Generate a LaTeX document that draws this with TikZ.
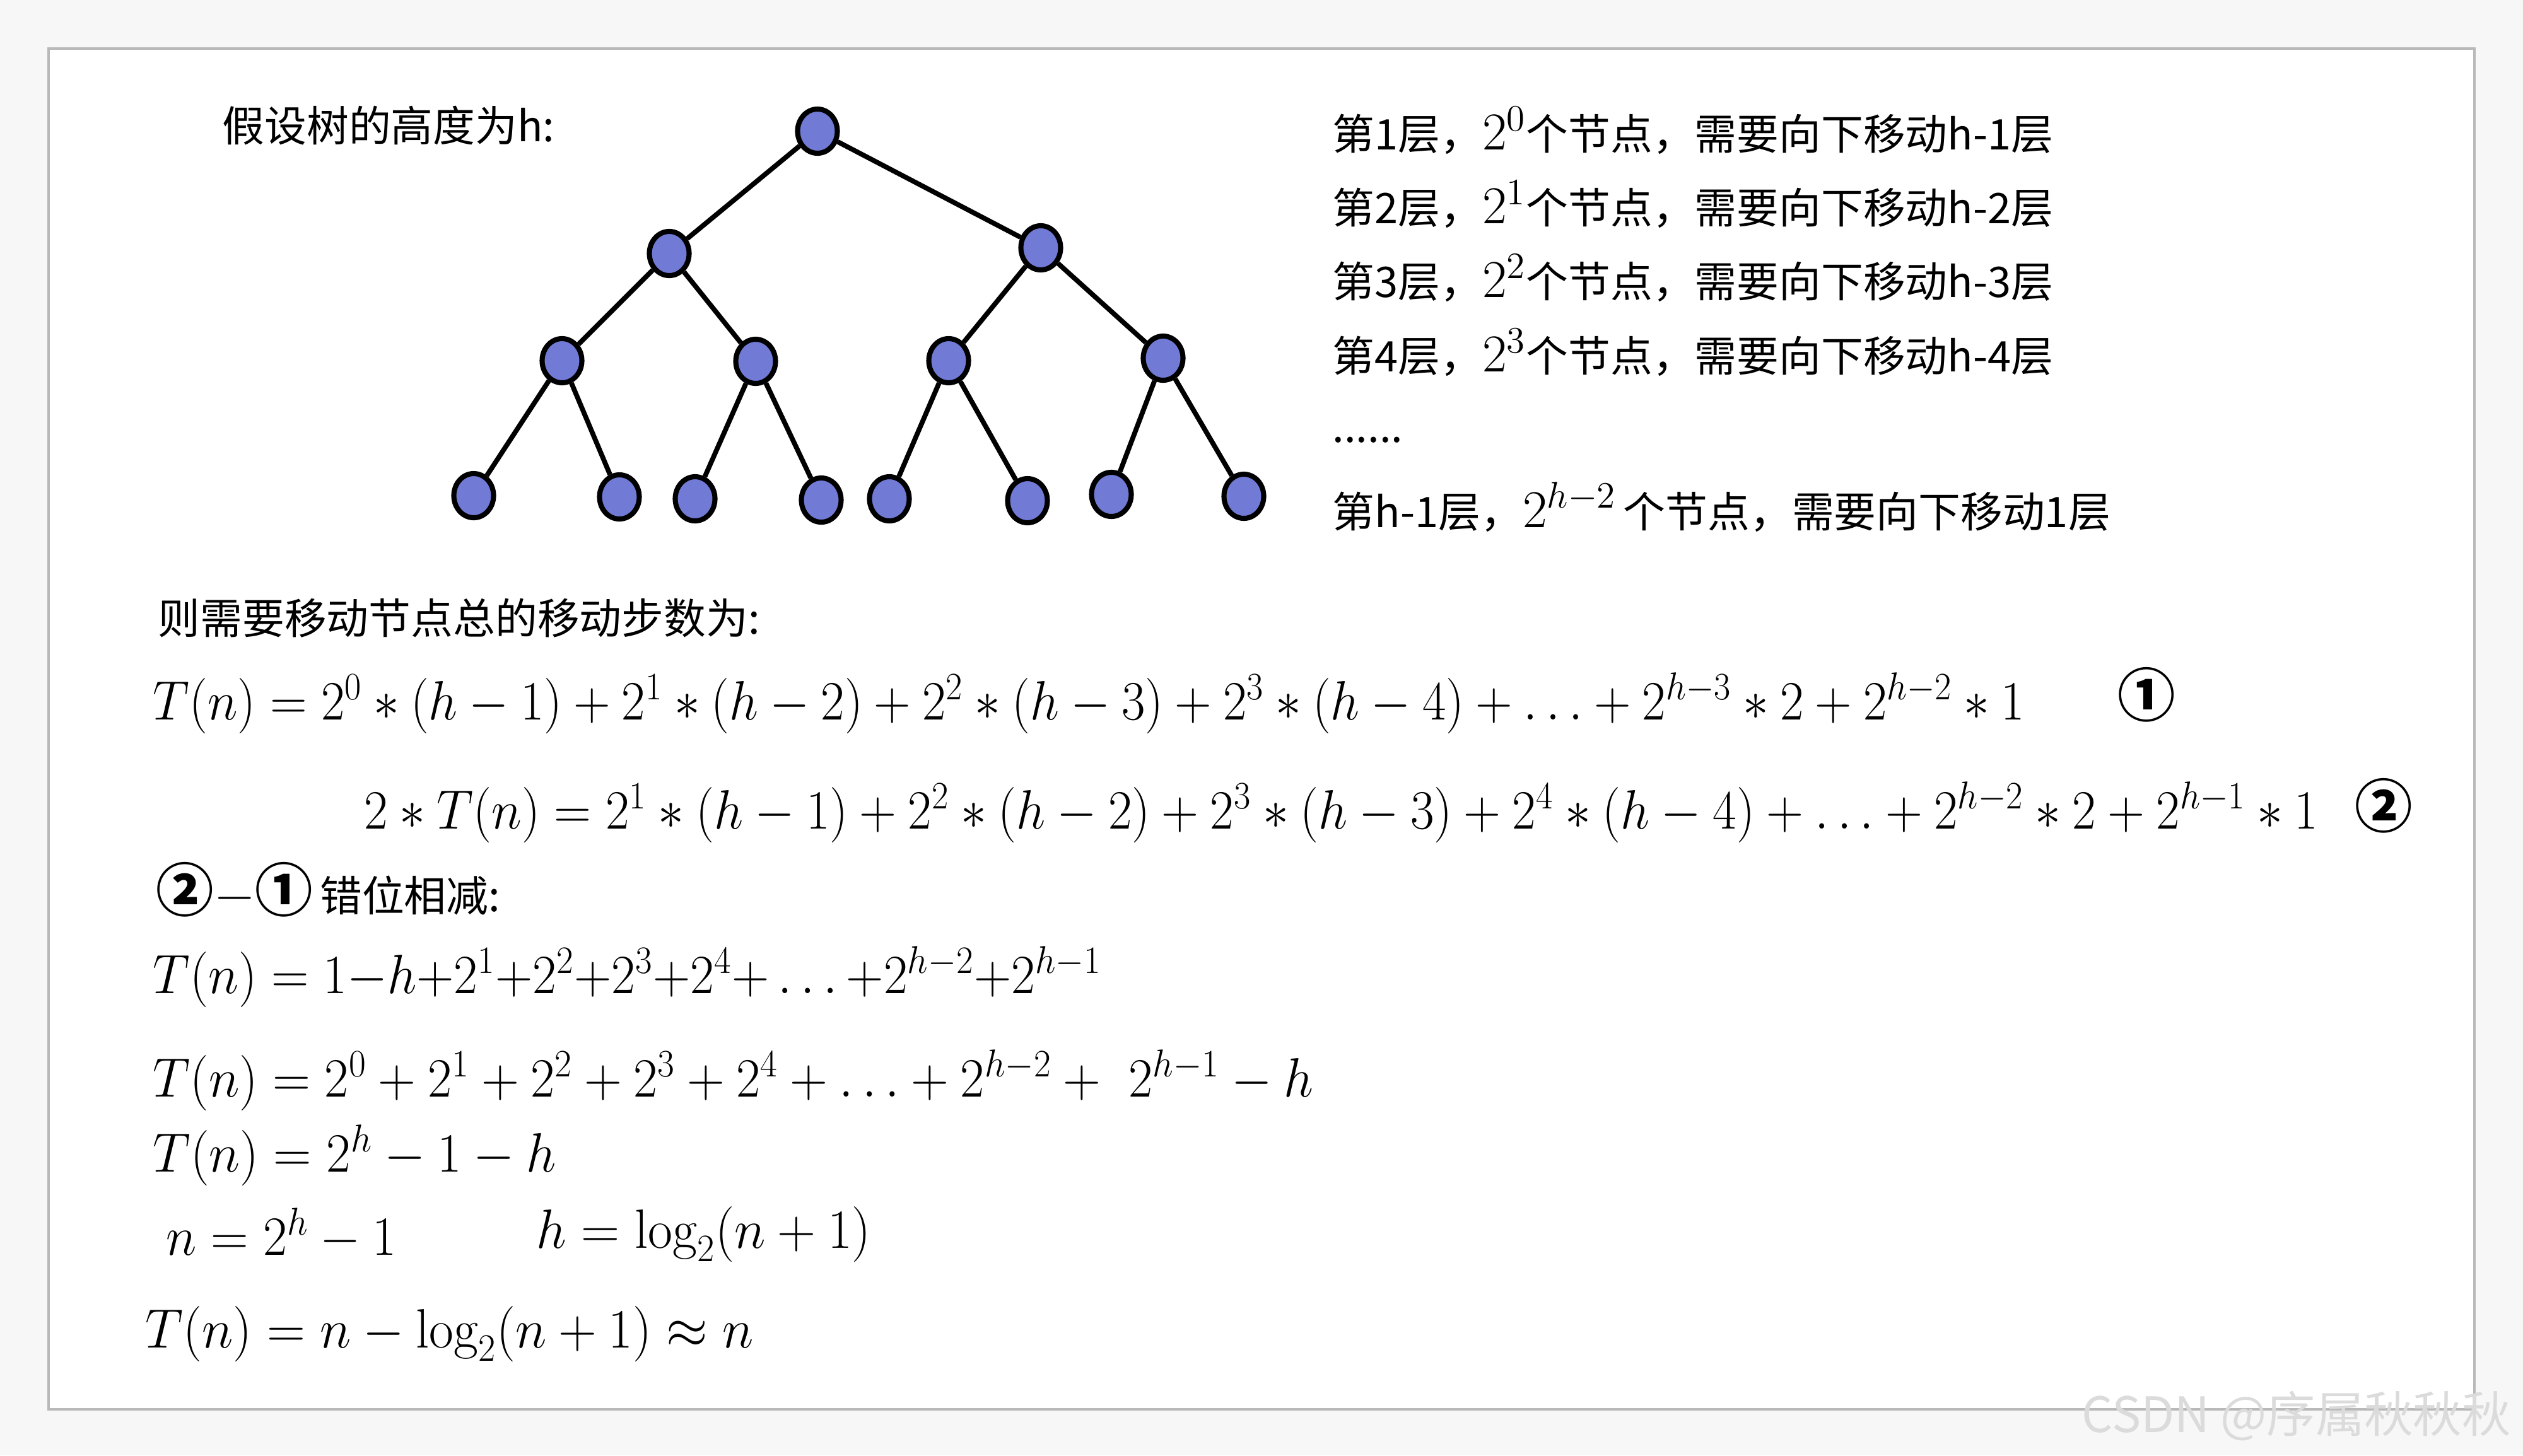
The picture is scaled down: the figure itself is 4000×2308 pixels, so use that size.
\RequirePackage{fix-cm}
\documentclass[tikz,border=0pt]{standalone}
\usepackage{fontspec}
\usetikzlibrary{shapes.geometric}
\newfontfamily\cjk{Noto Sans CJK SC}
\definecolor{nodeblue}{RGB}{113,123,214}
\definecolor{outerbg}{RGB}{247,247,247}
\newcommand{\mathbig}[1]{{\fontsize{24pt}{24pt}\selectfont$#1$}}
\newcommand{\sqz}[2]{\scalebox{#1}[1]{$#2$}}
\newcommand{\circd}[1]{{\fontsize{26pt}{28pt}\selectfont\bfseries #1}}
\begin{document}
\begin{tikzpicture}[x=0.01cm,y=-0.01cm,
  tnode/.style={ellipse, draw=black, line width=2.3pt, fill=nodeblue,
    minimum width=0.63cm, minimum height=0.70cm, inner sep=0pt},
  tedge/.style={line width=2.2pt, black},
  cjktext/.style={font=\cjk\fontsize{19pt}{23pt}\selectfont, anchor=west, inner sep=0pt},
  eqtext/.style={font=\fontsize{25pt}{30pt}\selectfont, anchor=west, inner sep=0pt},
  circnum/.style={font=\cjk\fontsize{26pt}{28pt}\selectfont\bfseries, inner sep=0pt},
  wmark/.style={font=\cjk\fontsize{22pt}{25pt}\selectfont, anchor=west, inner sep=0pt, text=gray!28}]
\useasboundingbox (0,0) rectangle (4000,2308);
\fill[outerbg] (0,0) rectangle (4000,2308);
\draw[gray!55, line width=1pt, fill=white] (77,77) rectangle (3923,2235);

% tree
\node[tnode] (r) at (1296,208) {};
\node[tnode] (a) at (1061,402) {};
\node[tnode] (b) at (1650,393) {};
\node[tnode] (a1) at (891,572) {};
\node[tnode] (a2) at (1198,573) {};
\node[tnode] (b1) at (1504,572) {};
\node[tnode] (b2) at (1844,568) {};
\node[tnode] (c1) at (751,786) {};
\node[tnode] (c2) at (982,788) {};
\node[tnode] (c3) at (1102,791) {};
\node[tnode] (c4) at (1302,793) {};
\node[tnode] (c5) at (1410,791) {};
\node[tnode] (c6) at (1629,794) {};
\node[tnode] (c7) at (1762,784) {};
\node[tnode] (c8) at (1972,787) {};
\draw[tedge] (r) -- (a);
\draw[tedge] (r) -- (b);
\draw[tedge] (a) -- (a1);
\draw[tedge] (a) -- (a2);
\draw[tedge] (b) -- (b1);
\draw[tedge] (b) -- (b2);
\draw[tedge] (a1) -- (c1);
\draw[tedge] (a1) -- (c2);
\draw[tedge] (a2) -- (c3);
\draw[tedge] (a2) -- (c4);
\draw[tedge] (b1) -- (c5);
\draw[tedge] (b1) -- (c6);
\draw[tedge] (b2) -- (c7);
\draw[tedge] (b2) -- (c8);

% texts
\node[cjktext] (title) at (352,199) {假设树的高度为h:};
\node[cjktext] (l1) at (2112,207) {第1层，\mathbig{2^0}个节点，需要向下移动h-1层};
\node[cjktext] (l2) at (2112,324) {第2层，\mathbig{2^1}个节点，需要向下移动h-2层};
\node[cjktext] (l3) at (2112,441) {第3层，\mathbig{2^2}个节点，需要向下移动h-3层};
\node[cjktext] (l4) at (2112,559) {第4层，\mathbig{2^3}个节点，需要向下移动h-4层};
\node[cjktext] (ld) at (2112,698) {......};
\node[cjktext] (l5) at (2112,804) {第h-1层，\mathbig{2^{h-2}}\,个节点，需要向下移动1层};

\node[cjktext] (sum) at (250,980) {则需要移动节点总的移动步数为:};
\node[eqtext] (e1) at (242,1115) {\sqz{0.925}{T(n) = 2^0 * (h-1) + 2^1 * (h-2) + 2^2 * (h-3) + 2^3 * (h-4) + \ldots + 2^{h-3} * 2 + 2^{h-2} * 1}};
\node[circnum] (n1) at (3403,1102) {①};
\node[eqtext] (e2) at (577,1288) {\sqz{0.93}{2 * T(n) = 2^1 * (h-1) + 2^2 * (h-2) + 2^3 * (h-3) + 2^4 * (h-4) + \ldots + 2^{h-2} * 2 + 2^{h-1} * 1}};
\node[circnum] (n2) at (3779,1278) {②};
\node[cjktext] (sub) at (247,1411) {\circd{②}\mathbig{-}\circd{①}\,错位相减:};
\node[eqtext] (e3) at (242,1549) {\sqz{0.936}{T(n) = 1{-}h{+}2^1{+}2^2{+}2^3{+}2^4{+}\ldots{+}2^{h-2}{+}2^{h-1}}};
\node[eqtext] (e4) at (242,1713) {\sqz{0.945}{T(n) = 2^0 + 2^1 + 2^2 + 2^3 + 2^4 + \ldots + 2^{h-2} + \ 2^{h-1} - h}};
\node[eqtext] (e5) at (242,1832) {\sqz{0.954}{T(n) = 2^h - 1 - h}};
\node[eqtext] (e6) at (263,1957) {\sqz{0.94}{n = 2^h - 1}};
\node[eqtext] (e7) at (850,1957) {\sqz{0.963}{h = \log_2(n+1)}};
\node[eqtext] (e8) at (230,2115) {\sqz{0.96}{T(n) = n - \log_2(n+1) \approx n}};

\node[wmark] (wm) at (3300,2245) {CSDN @序属秋秋秋};
\end{tikzpicture}
\end{document}
